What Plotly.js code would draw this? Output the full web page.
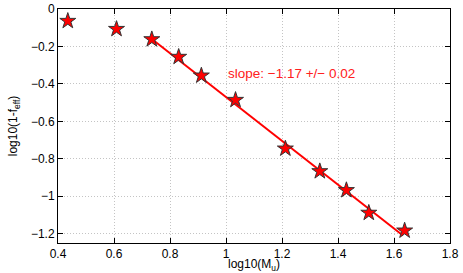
<!DOCTYPE html>
<html>
<head>
<meta charset="utf-8">
<script src="https://cdn.plot.ly/plotly-3.0.1.min.js"></script>
<style>html,body{margin:0;padding:0;background:#fff;}#chart{width:463px;height:273px;}</style>
</head>
<body>
<div id="chart"></div>
<script>
// Data
const logMu = [0.435, 0.609, 0.735, 0.831, 0.912, 1.034, 1.212, 1.335, 1.430, 1.510, 1.638];
const logOneMinusFeff = [-0.064, -0.107, -0.162, -0.256, -0.356, -0.486, -0.746, -0.867, -0.968, -1.089, -1.184];
const fitX = [0.735, 1.632];
const fitY = [-0.160, -1.210];
const slopeLabel = "slope: \u22121.17 +/\u2212 0.02";
const slopeLabelPos = [1.0, -0.347];
const xTicks = [0.4, 0.6, 0.8, 1.0, 1.2, 1.4, 1.6, 1.8];
const xTickText = ["0.4", "0.6", "0.8", "1", "1.2", "1.4", "1.6", "1.8"];
const yTicks = [0, -0.2, -0.4, -0.6, -0.8, -1.0, -1.2];
const yTickText = ["0", "\u22120.2", "\u22120.4", "\u22120.6", "\u22120.8", "\u22121", "\u22121.2"];

const fontFam = "Liberation Sans, Arial, Helvetica, sans-serif";

const traces = [
  {
    x: fitX, y: fitY, type: "scatter", mode: "lines",
    line: {color: "#ff0000", width: 2}, hoverinfo: "skip", showlegend: false
  },
  {
    x: logMu, y: logOneMinusFeff, type: "scatter", mode: "markers",
    marker: {symbol: "star", size: 12, color: "#ff0000", line: {color: "#333333", width: 1}},
    showlegend: false
  }
];

const axisCommon = {
  showline: true, linecolor: "#000", linewidth: 1, mirror: "ticks",
  ticks: "inside", ticklen: 5, tickcolor: "#000", tickwidth: 1,
  showgrid: true, gridcolor: "#c4c4c4", griddash: "1px,2px", gridwidth: 1,
  zeroline: false, tickfont: {family: fontFam, size: 12, color: "#000"},
  automargin: false, fixedrange: true
};

const layout = {
  width: 463, height: 273,
  margin: {l: 58, r: 13, t: 9, b: 30, pad: 0},
  paper_bgcolor: "#fff", plot_bgcolor: "#fff",
  font: {family: fontFam, color: "#000"},
  xaxis: Object.assign({}, axisCommon, {
    range: [0.4, 1.8], tickmode: "array", tickvals: xTicks, ticktext: xTickText,
    title: {text: "log10(M<sub>u</sub>)", font: {family: fontFam, size: 12, color: "#000"}, standoff: 0}
  }),
  yaxis: Object.assign({}, axisCommon, {
    range: [-1.25, 0], tickmode: "array", tickvals: yTicks, ticktext: yTickText,
    title: {text: "log10(1-f<sub>eff</sub>)", font: {family: fontFam, size: 12, color: "#000"}, standoff: 10}
  }),
  annotations: [{
    x: slopeLabelPos[0], y: slopeLabelPos[1], xref: "x", yref: "y",
    text: slopeLabel, showarrow: false, xanchor: "left", yanchor: "middle",
    font: {family: fontFam, size: 13.5, color: "#ff2020"}
  }]
};

Plotly.newPlot("chart", traces, layout, {displayModeBar: false, staticPlot: true});
</script>
</body>
</html>
